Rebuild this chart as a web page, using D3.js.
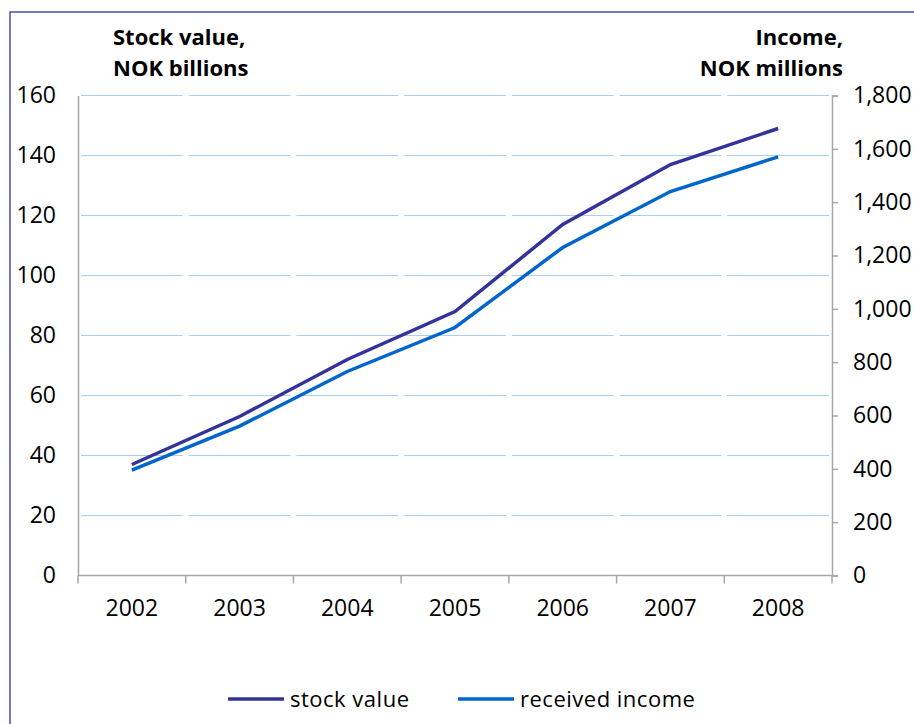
<!DOCTYPE html>
<html>
<head>
<meta charset="utf-8">
<script src="https://cdn.jsdelivr.net/npm/d3@7"></script>
<style>
  body { margin: 0; background: #fff; }
  svg text { font-family: "Open Sans", "Noto Sans", sans-serif; fill: #000; }
</style>
</head>
<body>
<div id="chart"></div>
<script>
// values
const years = ["2002", "2003", "2004", "2005", "2006", "2007", "2008"];
const stockValue = [37, 53, 72, 88, 117, 137, 149];          // NOK billions, left axis
const receivedIncome = [395, 560, 765, 930, 1230, 1440, 1570]; // NOK millions, right axis
const leftTicks = [0, 20, 40, 60, 80, 100, 120, 140, 160];
const rightTicks = [0, 200, 400, 600, 800, 1000, 1200, 1400, 1600, 1800];

const width = 914, height = 724;
const margin = {top: 95.5, right: 82, bottom: 148.5, left: 78};

const svg = d3.select("#chart").append("svg")
    .attr("width", width)
    .attr("height", height);

// outer frame (only left and top visible in the crop)
svg.append("rect")
    .attr("x", 10).attr("y", 12)
    .attr("width", 1000).attr("height", 1000)
    .attr("fill", "none")
    .attr("stroke", "#4c4ca6")
    .attr("stroke-width", 1.5);

const x = d3.scaleBand()
    .domain(years)
    .range([margin.left, width - margin.right]);

const yLeft = d3.scaleLinear()
    .domain([0, 160])
    .range([height - margin.bottom, margin.top]);

const yRight = d3.scaleLinear()
    .domain([0, 1800])
    .range([height - margin.bottom, margin.top]);

const bw = x.bandwidth();

// dashed gridlines, gaps fall on the category boundaries
svg.append("g")
    .selectAll("line")
    .data(leftTicks.filter(d => d > 0))
    .join("line")
    .attr("x1", margin.left)
    .attr("x2", width - margin.right)
    .attr("y1", d => yLeft(d))
    .attr("y2", d => yLeft(d))
    .attr("stroke", "#a9d0f2")
    .attr("stroke-width", 1.2)
    .attr("stroke-dasharray", (bw - 6) + "," + 6)
    .attr("stroke-dashoffset", bw - 3);

// left axis: labels only
const gLeft = svg.append("g")
    .attr("transform", `translate(${margin.left},0)`)
    .call(d3.axisLeft(yLeft).tickValues(leftTicks).tickSize(0).tickPadding(22));
gLeft.select(".domain").attr("stroke", "#a6a6a6").attr("stroke-width", 1.5);
gLeft.selectAll("text").style("font-size", "23px");

// right axis
const gRight = svg.append("g")
    .attr("transform", `translate(${width - margin.right},0)`)
    .call(d3.axisRight(yRight).tickValues(rightTicks).tickSize(6).tickPadding(15)
        .tickFormat(d3.format(",")));
gRight.select(".domain").attr("stroke", "#a6a6a6").attr("stroke-width", 1.5);
gRight.selectAll(".tick line").attr("stroke", "#a6a6a6").attr("stroke-width", 1.5);
gRight.selectAll("text").style("font-size", "23px");

// bottom axis with ticks between categories
const gBottom = svg.append("g")
    .attr("transform", `translate(0,${height - margin.bottom})`);
gBottom.append("line")
    .attr("x1", margin.left).attr("x2", width - margin.right)
    .attr("stroke", "#a6a6a6").attr("stroke-width", 1.5);
const boundaries = years.map(d => x(d)).concat([x(years[years.length - 1]) + bw]);
gBottom.selectAll(".tk")
    .data(boundaries)
    .join("line")
    .attr("class", "tk")
    .attr("x1", d => d).attr("x2", d => d)
    .attr("y1", 0).attr("y2", 8)
    .attr("stroke", "#a6a6a6").attr("stroke-width", 1.5);
gBottom.selectAll(".lbl")
    .data(years)
    .join("text")
    .attr("class", "lbl")
    .attr("x", d => x(d) + bw / 2)
    .attr("y", 40)
    .attr("text-anchor", "middle")
    .style("font-size", "23px")
    .text(d => d);

// lines
const cx = (d, i) => x(years[i]) + bw / 2;
const stockLine = d3.line().x(cx).y(d => yLeft(d));
const incomeLine = d3.line().x(cx).y(d => yRight(d));

svg.append("path")
    .datum(receivedIncome)
    .attr("d", incomeLine)
    .attr("fill", "none")
    .attr("stroke", "#0066cc")
    .attr("stroke-width", 3.5);

svg.append("path")
    .datum(stockValue)
    .attr("d", stockLine)
    .attr("fill", "none")
    .attr("stroke", "#333399")
    .attr("stroke-width", 3.5);

// axis titles
const titleL = svg.append("text")
    .attr("x", 113).attr("y", 45)
    .style("font-size", "22px").style("font-weight", "bold");
titleL.append("tspan").attr("x", 113).text("Stock value,");
titleL.append("tspan").attr("x", 113).attr("dy", 31).text("NOK billions");

const titleR = svg.append("text")
    .attr("x", 843).attr("y", 45)
    .attr("text-anchor", "end")
    .style("font-size", "22px").style("font-weight", "bold");
titleR.append("tspan").attr("x", 843).text("Income,");
titleR.append("tspan").attr("x", 843).attr("dy", 31).text("NOK millions");

// legend
const legendItems = [
    {name: "stock value", color: "#333399", x: 228},
    {name: "received income", color: "#0066cc", x: 458}
];
const lg = svg.append("g").selectAll("g")
    .data(legendItems)
    .join("g")
    .attr("transform", d => `translate(${d.x},699)`);
lg.append("line")
    .attr("x1", 0).attr("x2", 56)
    .attr("stroke", d => d.color)
    .attr("stroke-width", 3.5);
lg.append("text")
    .attr("x", 62).attr("y", 8)
    .style("font-size", "22px")
    .style("letter-spacing", "0.5px")
    .text(d => d.name);
</script>
</body>
</html>
